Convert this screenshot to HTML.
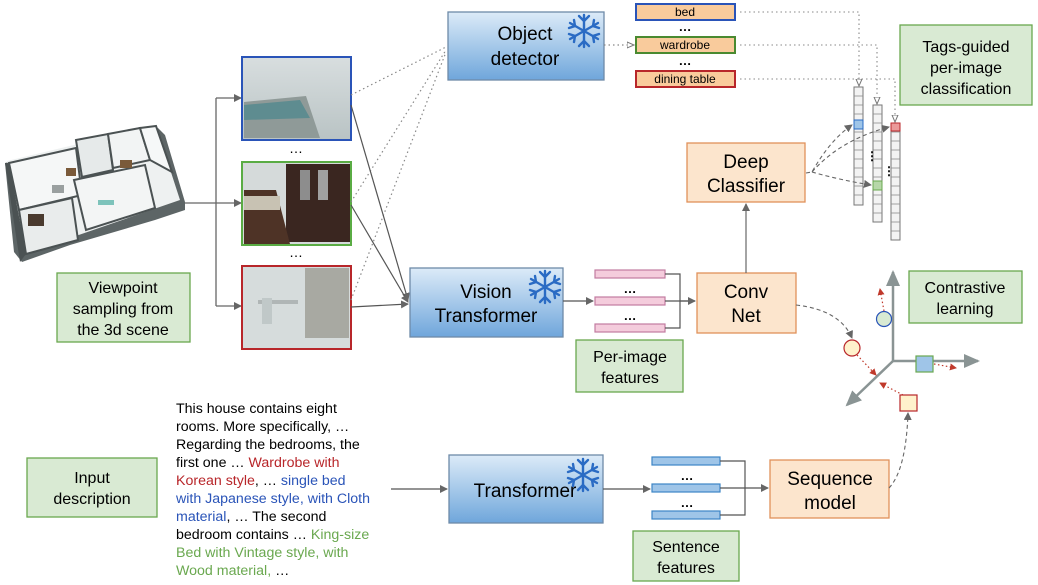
<!DOCTYPE html>
<html><head><meta charset="utf-8"><style>
html,body{margin:0;padding:0;background:#fff;width:1038px;height:585px;overflow:hidden}
svg{display:block}
text{font-family:"Liberation Sans",Arial,sans-serif}
</style></head><body>
<svg width="1038" height="585" viewBox="0 0 1038 585" xmlns="http://www.w3.org/2000/svg">
<defs>
<linearGradient id="bl" x1="0" y1="0" x2="0" y2="1"><stop offset="0" stop-color="#dcebf8"/><stop offset="1" stop-color="#6fa6db"/></linearGradient>
<linearGradient id="room1" x1="0" y1="0" x2="0" y2="1"><stop offset="0" stop-color="#d8dedf"/><stop offset="1" stop-color="#b9c3c4"/></linearGradient>
<marker id="ar" markerWidth="8" markerHeight="8" refX="7" refY="4" orient="auto" markerUnits="userSpaceOnUse"><path d="M0,0 L8,4 L0,8 z" fill="#666"/></marker>
<marker id="ao" markerWidth="8" markerHeight="8" refX="7" refY="4" orient="auto" markerUnits="userSpaceOnUse"><path d="M0,1 L7,4 L0,7 z" fill="#fff" stroke="#777"/></marker>
<marker id="ared" markerWidth="7" markerHeight="7" refX="6" refY="3.5" orient="auto" markerUnits="userSpaceOnUse"><path d="M0,0 L7,3.5 L0,7 z" fill="#c0392b"/></marker>
<marker id="agr" markerWidth="16" markerHeight="14" refX="14" refY="7" orient="auto" markerUnits="userSpaceOnUse"><path d="M0,0 L16,7 L0,14 z" fill="#8a9494"/></marker>
<g id="snow" stroke="#2a6bc4" stroke-width="2.4" fill="none" stroke-linecap="round">
<line x1="0" y1="-16" x2="0" y2="16"/><line x1="-14" y1="-8" x2="14" y2="8"/><line x1="-14" y1="8" x2="14" y2="-8"/>
<path d="M-5,-15 L0,-10 L5,-15 M-5,15 L0,10 L5,15 M-15,-3 L-9,-5 L-10,-11 M15,3 L9,5 L10,11 M-15,3 L-9,5 L-10,11 M15,-3 L9,-5 L10,-11"/>
</g>
</defs>

<!-- house 3d scene -->
<g>
<polygon points="5,163 78,146 110,138 158,128 165,135 185,202 185,210 155,220 70,245 22,262 14,252" fill="#5d6566"/>
<polygon points="7,161 78,144 110,135 156,126 180,200 70,238 20,252" fill="#eef1f1"/>
<polygon points="9,163 76,148 82,195 19,210" fill="#f5f7f7" stroke="#4b5253" stroke-width="2"/>
<polygon points="76,140 108,134 113,170 82,177" fill="#e6eaea" stroke="#4b5253" stroke-width="2"/>
<polygon points="108,134 140,128 150,160 113,168" fill="#f2f4f4" stroke="#4b5253" stroke-width="2"/>
<polygon points="140,128 156,126 172,172 150,160" fill="#f6f8f8" stroke="#4b5253" stroke-width="2"/>
<polygon points="19,210 72,198 78,240 26,254" fill="#e9ecec" stroke="#4b5253" stroke-width="2"/>
<polygon points="74,180 145,165 155,208 86,230" fill="#f3f5f5" stroke="#4b5253" stroke-width="2"/>
<rect x="98" y="200" width="16" height="5" fill="#7dc3bb"/>
<rect x="28" y="214" width="16" height="12" fill="#4a3a2e"/>
<rect x="66" y="168" width="10" height="8" fill="#7a5a3a"/>
<rect x="120" y="160" width="12" height="8" fill="#7a5a3a"/>
<rect x="52" y="185" width="12" height="8" fill="#9aa0a0"/>
<polygon points="5,163 9,163 26,254 20,262" fill="#4b5253"/>
</g>
<rect x="57" y="273" width="133" height="69" fill="#d9ead3" stroke="#6aa84f" stroke-width="1.3"/>
<text x="123" y="293" font-size="16" text-anchor="middle">Viewpoint</text>
<text x="123" y="314" font-size="16" text-anchor="middle">sampling from</text>
<text x="123" y="335" font-size="16" text-anchor="middle">the 3d scene</text>

<!-- branch arrows -->
<path d="M185,203 L216,203 M216,98 L216,306" stroke="#666" stroke-width="1.3" fill="none"/>
<path d="M216,98 L241,98" stroke="#666" stroke-width="1.3" marker-end="url(#ar)"/>
<path d="M216,203 L241,203" stroke="#666" stroke-width="1.3" marker-end="url(#ar)"/>
<path d="M216,306 L241,306" stroke="#666" stroke-width="1.3" marker-end="url(#ar)"/>

<!-- images -->
<rect x="242" y="57" width="109" height="83" fill="url(#room1)" stroke="#2a54b8" stroke-width="2"/>
<polygon points="244,102 306,96 320,138 244,138" fill="#8f9a98"/>
<polygon points="244,105 300,100 310,118 244,120" fill="#5e8c90"/>
<text x="296" y="153" font-size="14" text-anchor="middle">…</text>
<rect x="242" y="162" width="109" height="83" fill="#d5dada" stroke="#5aac44" stroke-width="2"/>
<rect x="286" y="164" width="64" height="78" fill="#3a2620"/>
<rect x="300" y="170" width="10" height="30" fill="#8d8d8d"/>
<rect x="318" y="170" width="10" height="30" fill="#a0a0a0"/>
<polygon points="244,190 276,190 290,244 244,244" fill="#4e3326"/>
<rect x="244" y="196" width="36" height="14" fill="#c8c2b3"/>
<text x="296" y="257" font-size="14" text-anchor="middle">…</text>
<rect x="242" y="266" width="109" height="83" fill="#d6dcdc" stroke="#b8262a" stroke-width="2"/>
<rect x="305" y="268" width="44" height="70" fill="#a8a9a2"/>
<rect x="258" y="300" width="40" height="4" fill="#b0b6b6"/>
<rect x="262" y="298" width="10" height="26" fill="#c0c8c8"/>

<!-- dotted lines to object detector -->
<g stroke="#888" stroke-width="1.2" stroke-dasharray="1.5,3" fill="none">
<path d="M351,95 L446,47"/><path d="M351,202 L446,50"/><path d="M351,300 L446,52"/>
</g>
<path d="M351,105 L408,300" stroke="#555" stroke-width="1.2" marker-end="url(#ar)"/>
<path d="M351,205 L408,302" stroke="#555" stroke-width="1.2" marker-end="url(#ar)"/>
<path d="M351,307 L408,304" stroke="#555" stroke-width="1.2" marker-end="url(#ar)"/>

<!-- Object detector -->
<rect x="448" y="12" width="156" height="68" fill="url(#bl)" stroke="#6e8aa8" stroke-width="1.3"/>
<text x="525" y="40" font-size="19" text-anchor="middle">Object</text>
<text x="525" y="65" font-size="19" text-anchor="middle">detector</text>
<use href="#snow" x="584" y="31"/>

<!-- tags -->
<path d="M604,45 L634,45" stroke="#888" stroke-width="1.2" stroke-dasharray="1.5,3" marker-end="url(#ao)"/>
<rect x="636" y="4" width="99" height="16" fill="#f9cb9c" stroke="#2a54b8" stroke-width="2"/>
<text x="685" y="16" font-size="12" text-anchor="middle">bed</text>
<text x="685" y="31" font-size="13" font-weight="bold" text-anchor="middle">…</text>
<rect x="636" y="37" width="99" height="16" fill="#f9cb9c" stroke="#4a8a30" stroke-width="2"/>
<text x="685" y="49" font-size="12" text-anchor="middle">wardrobe</text>
<text x="685" y="65" font-size="13" font-weight="bold" text-anchor="middle">…</text>
<rect x="636" y="71" width="99" height="16" fill="#f9cb9c" stroke="#b8262a" stroke-width="2"/>
<text x="685" y="83" font-size="12" text-anchor="middle">dining table</text>
<g stroke="#888" stroke-width="1.1" stroke-dasharray="1.5,3" fill="none">
<path d="M740,12 L859,12 L859,86" marker-end="url(#ao)"/>
<path d="M740,45 L877,45 L877,104" marker-end="url(#ao)"/>
<path d="M740,79 L895,79 L895,122" marker-end="url(#ao)"/>
</g>

<!-- Tags-guided -->
<rect x="900" y="25" width="132" height="80" fill="#d9ead3" stroke="#6aa84f" stroke-width="1.3"/>
<text x="966" y="52" font-size="16" text-anchor="middle">Tags-guided</text>
<text x="966" y="73" font-size="16" text-anchor="middle">per-image</text>
<text x="966" y="94" font-size="16" text-anchor="middle">classification</text>

<!-- vectors -->
<g stroke="#777" stroke-width="1" fill="#f3f3f3">
<rect x="854" y="87" width="9" height="118"/>
<rect x="873" y="105" width="9" height="117"/>
<rect x="891" y="123" width="9" height="117"/>
</g>
<g stroke="#888" stroke-width="0.8">
<path d="M854,96h9M854,105h9M854,114h9M854,123h9M854,132h9M854,141h9M854,150h9M854,159h9M854,168h9M854,177h9M854,186h9M854,195h9"/>
<path d="M873,114h9M873,123h9M873,132h9M873,141h9M873,150h9M873,159h9M873,168h9M873,177h9M873,186h9M873,195h9M873,204h9M873,213h9"/>
<path d="M891,132h9M891,141h9M891,150h9M891,159h9M891,168h9M891,177h9M891,186h9M891,195h9M891,204h9M891,213h9M891,222h9M891,231h9"/>
</g>
<rect x="854" y="120" width="9" height="9" fill="#9fc5e8" stroke="#2a6bc4"/>
<rect x="873" y="181" width="9" height="9" fill="#b6d7a8" stroke="#6aa84f"/>
<rect x="891" y="123" width="9" height="8" fill="#ea9999" stroke="#b8262a"/>
<text x="866" y="160" font-size="12" font-weight="bold">⋮</text>
<text x="883" y="175" font-size="12" font-weight="bold">⋮</text>

<!-- Deep classifier -->
<rect x="687" y="143" width="118" height="59" fill="#fce5cd" stroke="#e0915a" stroke-width="1.3"/>
<text x="746" y="168" font-size="19" text-anchor="middle">Deep</text>
<text x="746" y="192" font-size="19" text-anchor="middle">Classifier</text>
<g stroke="#666" stroke-width="1.1" stroke-dasharray="4,3" fill="none">
<path d="M806,173 L812,172 Q830,140 852,125" marker-end="url(#ar)"/>
<path d="M812,172 Q840,140 889,127" marker-end="url(#ar)"/>
<path d="M812,172 Q840,180 871,185" marker-end="url(#ar)"/>
</g>

<!-- ViT -->
<rect x="410" y="268" width="153" height="69" fill="url(#bl)" stroke="#6e8aa8" stroke-width="1.3"/>
<text x="486" y="298" font-size="19" text-anchor="middle">Vision</text>
<text x="486" y="322" font-size="19" text-anchor="middle">Transformer</text>
<use href="#snow" x="545" y="287"/>
<path d="M563,301 L593,301" stroke="#555" stroke-width="1.2" marker-end="url(#ar)"/>
<g fill="#f4ccdc" stroke="#c27ba0" stroke-width="1.2">
<rect x="595" y="270" width="70" height="8"/><rect x="595" y="297" width="70" height="8"/><rect x="595" y="324" width="70" height="8"/>
</g>
<text x="630" y="293" font-size="13" font-weight="bold" text-anchor="middle">…</text>
<text x="630" y="320" font-size="13" font-weight="bold" text-anchor="middle">…</text>
<path d="M665,274 L680,274 L680,328 L665,328 M665,301 L695,301" stroke="#555" stroke-width="1.2" fill="none"/>
<path d="M680,301 L695,301" stroke="#555" stroke-width="1.2" marker-end="url(#ar)"/>
<rect x="576" y="340" width="107" height="52" fill="#d9ead3" stroke="#6aa84f" stroke-width="1.3"/>
<text x="630" y="362" font-size="16" text-anchor="middle">Per-image</text>
<text x="630" y="383" font-size="16" text-anchor="middle">features</text>

<!-- Conv net -->
<rect x="697" y="273" width="99" height="60" fill="#fce5cd" stroke="#e0915a" stroke-width="1.3"/>
<text x="746" y="298" font-size="19" text-anchor="middle">Conv</text>
<text x="746" y="322" font-size="19" text-anchor="middle">Net</text>
<path d="M746,273 L746,204" stroke="#666" stroke-width="1.2" marker-end="url(#ar)"/>
<path d="M796,305 Q840,310 852,338" stroke="#666" stroke-width="1.1" stroke-dasharray="4,3" fill="none" marker-end="url(#ar)"/>

<!-- axes -->
<g stroke="#8a9494" stroke-width="2.5" fill="none">
<path d="M893,361 L893,272" marker-end="url(#agr)"/>
<path d="M893,361 L978,361" marker-end="url(#agr)"/>
<path d="M893,361 L847,405" marker-end="url(#agr)"/>
</g>
<rect x="909" y="271" width="113" height="52" fill="#d9ead3" stroke="#6aa84f" stroke-width="1.3"/>
<text x="965" y="293" font-size="16" text-anchor="middle">Contrastive</text>
<text x="965" y="314" font-size="16" text-anchor="middle">learning</text>
<g stroke="#c0392b" stroke-width="1.2" stroke-dasharray="1.5,2.5" fill="none">
<path d="M884,311 L880,289" marker-end="url(#ared)"/>
<path d="M857,355 L876,375" marker-end="url(#ared)"/>
<path d="M903,395 L880,383" marker-end="url(#ared)"/>
<path d="M934,364 L956,368" marker-end="url(#ared)"/>
</g>
<circle cx="884" cy="319" r="7.5" fill="#d9ead3" stroke="#2a54b8" stroke-width="1.2"/>
<circle cx="852" cy="348" r="8" fill="#fff2cc" stroke="#b8262a" stroke-width="1.2"/>
<rect x="916" y="356" width="17" height="16" fill="#9fc5e8" stroke="#6aa84f" stroke-width="1.2"/>
<rect x="900" y="395" width="17" height="16" fill="#fff2cc" stroke="#b8262a" stroke-width="1.2"/>

<!-- bottom -->
<rect x="27" y="458" width="130" height="59" fill="#d9ead3" stroke="#6aa84f" stroke-width="1.3"/>
<text x="92" y="483" font-size="16" text-anchor="middle">Input</text>
<text x="92" y="504" font-size="16" text-anchor="middle">description</text>
<g font-size="14.2">
<text x="176" y="413">This house contains eight</text>
<text x="176" y="431">rooms. More specifically, …</text>
<text x="176" y="449">Regarding the bedrooms, the</text>
<text x="176" y="467">first one … <tspan fill="#b8262a">Wardrobe with</tspan></text>
<text x="176" y="485"><tspan fill="#b8262a">Korean style</tspan>, … <tspan fill="#2a54b8">single bed</tspan></text>
<text x="176" y="503" fill="#2a54b8">with Japanese style, with Cloth</text>
<text x="176" y="521"><tspan fill="#2a54b8">material</tspan>, … The second</text>
<text x="176" y="539">bedroom contains … <tspan fill="#6aa84f">King-size</tspan></text>
<text x="176" y="557" fill="#6aa84f">Bed with Vintage style, with</text>
<text x="176" y="575"><tspan fill="#6aa84f">Wood material,</tspan> …</text>
</g>
<path d="M391,489 L447,489" stroke="#555" stroke-width="1.2" marker-end="url(#ar)"/>
<rect x="449" y="455" width="154" height="68" fill="url(#bl)" stroke="#6e8aa8" stroke-width="1.3"/>
<text x="525" y="497" font-size="19" text-anchor="middle">Transformer</text>
<use href="#snow" x="583" y="475"/>
<path d="M603,489 L650,489" stroke="#555" stroke-width="1.2" marker-end="url(#ar)"/>
<g fill="#9fc5e8" stroke="#3d85c6" stroke-width="1.2">
<rect x="652" y="457" width="68" height="8"/><rect x="652" y="484" width="68" height="8"/><rect x="652" y="511" width="68" height="8"/>
</g>
<text x="687" y="480" font-size="13" font-weight="bold" text-anchor="middle">…</text>
<text x="687" y="507" font-size="13" font-weight="bold" text-anchor="middle">…</text>
<path d="M720,461 L745,461 L745,515 L720,515 M720,488 L745,488" stroke="#555" stroke-width="1.2" fill="none"/>
<path d="M745,488 L768,488" stroke="#555" stroke-width="1.2" marker-end="url(#ar)"/>
<rect x="633" y="531" width="106" height="50" fill="#d9ead3" stroke="#6aa84f" stroke-width="1.3"/>
<text x="686" y="552" font-size="16" text-anchor="middle">Sentence</text>
<text x="686" y="573" font-size="16" text-anchor="middle">features</text>
<rect x="770" y="460" width="119" height="58" fill="#fce5cd" stroke="#e0915a" stroke-width="1.3"/>
<text x="830" y="485" font-size="19" text-anchor="middle">Sequence</text>
<text x="830" y="509" font-size="19" text-anchor="middle">model</text>
<path d="M889,488 Q906,470 908,413" stroke="#666" stroke-width="1.1" stroke-dasharray="4,3" fill="none" marker-end="url(#ar)"/>
</svg>
</body></html>
